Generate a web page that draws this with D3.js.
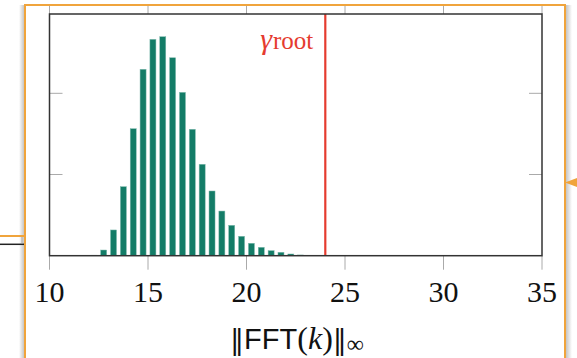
<!DOCTYPE html>
<html><head><meta charset="utf-8">
<script src="https://cdn.jsdelivr.net/npm/d3@7"></script>
<style>html,body{margin:0;padding:0;background:#fff;}svg{display:block;}</style>
</head><body>
<script>
// Data: histogram bin centers and densities
const binCenters = [12.25,12.75,13.25,13.75,14.25,14.75,15.25,15.75,16.25,16.75,17.25,17.75,18.25,18.75,19.25,19.75,20.25,20.75,21.25,21.75,22.25,22.75,23.25,23.75];
const densities  = [0.0006,0.007,0.0317,0.085,0.1564,0.2296,0.2665,0.2697,0.2438,0.2012,0.1557,0.1126,0.0797,0.0550,0.0374,0.0239,0.0153,0.0103,0.0062,0.0042,0.0021,0.0009,0.0005,0.0002];
const xTicks = [10,15,20,25,30,35];
const yTicks = [0.1,0.2];
const gammaRoot = 24;

const W = 577, H = 358;
const svg = d3.select("body").append("svg").attr("width", W).attr("height", H);
const defs = svg.append("defs");
const gl = defs.append("linearGradient").attr("id","shL").attr("x1","0").attr("x2","1");
gl.append("stop").attr("offset","0").attr("stop-color","#fff");
gl.append("stop").attr("offset","1").attr("stop-color","#bbb");
const gr = defs.append("linearGradient").attr("id","shR").attr("x1","0").attr("x2","1");
gr.append("stop").attr("offset","0").attr("stop-color","#bbb");
gr.append("stop").attr("offset","1").attr("stop-color","#fff");

// outside decorations
svg.append("rect").attr("x",19).attr("y",5).attr("width",6).attr("height",H).attr("fill","url(#shL)");
svg.append("rect").attr("x",565).attr("y",5).attr("width",7).attr("height",H).attr("fill","url(#shR)");
svg.append("line").attr("x1",0).attr("x2",25).attr("y1",236).attr("y2",236).attr("stroke","#f0a43c").attr("stroke-width",2);
svg.append("line").attr("x1",0).attr("x2",25).attr("y1",244.3).attr("y2",244.3).attr("stroke","#222").attr("stroke-width",1.5);
svg.append("line").attr("x1",22).attr("x2",22).attr("y1",237).attr("y2",243.5).attr("stroke","#aaa").attr("stroke-width",1);
svg.append("path").attr("d","M565,182.5 L578,177.5 L578,187.5 Z").attr("fill","#f0a43c");

// frame
svg.append("rect").attr("x",25).attr("y",5).attr("width",540).attr("height",H+10)
  .attr("fill","#fff").attr("stroke","#f0a43c").attr("stroke-width",2);

const L = 49.5, R = 542, T = 14, B = 255.7;
const x = d3.scaleLinear().domain([10,35]).range([L,R]);
const y = d3.scaleLinear().domain([0,0.2977]).range([B,T]);

const clip = defs.append("clipPath").attr("id","fr");
clip.append("rect").attr("x",26).attr("y",6).attr("width",538).attr("height",H);
const g = svg.append("g").attr("clip-path","url(#fr)");

// top & bottom ticks outside, right ticks inside
g.selectAll(".tt").data(xTicks).join("line")
  .attr("x1",d=>x(d)).attr("x2",d=>x(d)).attr("y1",T).attr("y2",T-13)
  .attr("stroke","#aaa").attr("stroke-width",1);
g.selectAll(".bt").data(xTicks).join("line")
  .attr("x1",d=>x(d)).attr("x2",d=>x(d)).attr("y1",B).attr("y2",B+14)
  .attr("stroke","#aaa").attr("stroke-width",1);
g.selectAll(".lt").data(yTicks).join("line")
  .attr("x1",L).attr("x2",L+13).attr("y1",d=>y(d)).attr("y2",d=>y(d))
  .attr("stroke","#aaa").attr("stroke-width",1);
g.selectAll(".rt").data(yTicks).join("line")
  .attr("x1",R).attr("x2",R-13).attr("y1",d=>y(d)).attr("y2",d=>y(d))
  .attr("stroke","#aaa").attr("stroke-width",1);

// bars
const bw = x(10.305) - x(10);
g.selectAll(".bar").data(binCenters).join("rect")
  .attr("x",(d)=>x(d)-bw/2).attr("width",bw)
  .attr("y",(d,i)=>y(densities[i])).attr("height",(d,i)=>B-y(densities[i]))
  .attr("fill","#137c67").attr("stroke","#7fb9ad").attr("stroke-width",0.5);

// gamma root line
g.append("line").attr("x1",x(gammaRoot)).attr("x2",x(gammaRoot)).attr("y1",T).attr("y2",B)
  .attr("stroke","#e53b2f").attr("stroke-width",2.2);
const gt = g.append("text").attr("x",x(gammaRoot)-12).attr("y",48.5).attr("text-anchor","end")
  .attr("fill","#e53b2f").attr("font-family","Liberation Serif, serif");
gt.append("tspan").attr("font-style","italic").attr("font-size",30).text("γ");
gt.append("tspan").attr("font-size",25).attr("dx",1).text("root");

// plot box
g.append("rect").attr("x",L).attr("y",T).attr("width",R-L).attr("height",B-T)
  .attr("fill","none").attr("stroke","#333").attr("stroke-width",1.5);

// x tick labels
g.selectAll(".xl").data(xTicks).join("text")
  .attr("x",d=>x(d)).attr("y",302).attr("text-anchor","middle")
  .attr("font-family","Liberation Serif, serif").attr("font-size",30).attr("fill","#111")
  .text(d=>d);

// x axis label
const xl = g.append("text").attr("x",297).attr("y",349).attr("text-anchor","middle")
  .attr("font-family","DejaVu Serif, serif").attr("font-size",28).attr("fill","#111");
xl.append("tspan").text("‖");
xl.append("tspan").attr("font-family","Liberation Sans, sans-serif").attr("font-size",29).text("FFT");
xl.append("tspan").attr("font-family","Liberation Serif, serif").attr("font-size",32).text("(");
xl.append("tspan").attr("font-family","Liberation Serif, serif").attr("font-size",32).attr("font-style","italic").text("k");
xl.append("tspan").attr("font-family","Liberation Serif, serif").attr("font-size",32).text(")");
xl.append("tspan").text("‖");
xl.append("tspan").attr("font-family","Liberation Serif, serif").attr("font-size",24).attr("dy",3).text("∞");
</script>
</body></html>
